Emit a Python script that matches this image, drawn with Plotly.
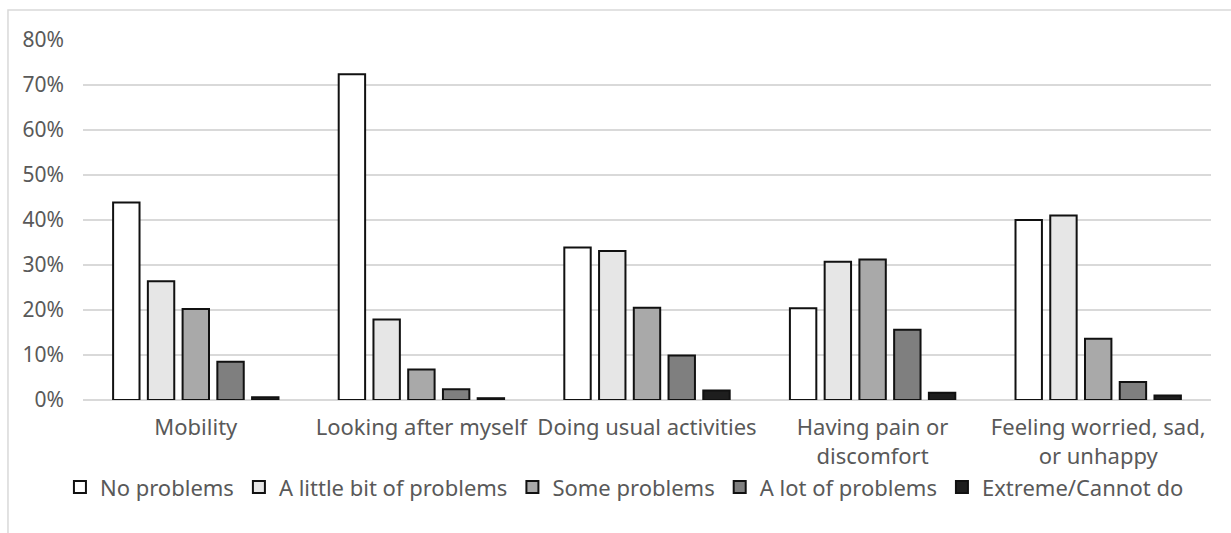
import plotly.graph_objects as go

# EQ-5D-Y style dimensions and response levels
categories = [
    "Mobility",
    "Looking after myself",
    "Doing usual activities",
    "Having pain or<br>discomfort",
    "Feeling worried, sad,<br>or unhappy",
]
levels = [
    "No problems",
    "A little bit of problems",
    "Some problems",
    "A lot of problems",
    "Extreme/Cannot do",
]

# Share of respondents per level (fractions), one list per response level
no_problems = [0.439, 0.724, 0.339, 0.204, 0.400]
little_bit = [0.264, 0.179, 0.331, 0.307, 0.410]
some_problems = [0.202, 0.068, 0.205, 0.312, 0.136]
lot_of_problems = [0.085, 0.024, 0.099, 0.156, 0.040]
extreme = [0.006, 0.004, 0.021, 0.016, 0.010]

series_values = [no_problems, little_bit, some_problems, lot_of_problems, extreme]
fill_colors = ["#ffffff", "#e6e6e6", "#a9a9a9", "#7f7f7f", "#1e1e1e"]

y_ticks = [0, 0.1, 0.2, 0.3, 0.4, 0.5, 0.6, 0.7, 0.8]
y_tick_labels = ["0%", "10%", "20%", "30%", "40%", "50%", "60%", "70%", "80%"]

TEXT = "#595959"
GRID = "#d9d9d9"

fig = go.Figure()
for name, vals, col in zip(levels, series_values, fill_colors):
    fig.add_trace(go.Bar(
        name=name,
        x=categories,
        y=vals,
        marker=dict(color=col, line=dict(color="#111111", width=2)),
    ))

fig.update_layout(
    width=1231,
    height=533,
    margin=dict(l=83, r=20, t=40, b=133),
    paper_bgcolor="white",
    plot_bgcolor="white",
    barmode="group",
    bargap=0.23,
    bargroupgap=0.24,
    font=dict(family="Noto Sans", size=22, color=TEXT),
    showlegend=True,
    legend=dict(
        orientation="h",
        x=0.48,
        xanchor="center",
        y=-0.242,
        yanchor="middle",
        font=dict(family="Noto Sans", size=22, color=TEXT),
        itemwidth=30,
        tracegroupgap=0,
        bgcolor="rgba(0,0,0,0)",
    ),
    xaxis=dict(
        showgrid=False,
        showline=False,
        ticks="",
        ticklabelstandoff=12,
        tickfont=dict(family="Noto Sans", size=22, color=TEXT),
    ),
    yaxis=dict(
        range=[0, 0.8],
        tickvals=y_ticks,
        ticktext=y_tick_labels,
        showgrid=True,
        gridcolor=GRID,
        gridwidth=1.5,
        zeroline=True,
        zerolinecolor=GRID,
        zerolinewidth=2,
        showline=False,
        ticks="",
        ticklabelstandoff=18,
        tickfont=dict(family="Noto Sans", size=21, color=TEXT),
    ),
    shapes=[
        dict(
            type="rect",
            xref="paper",
            yref="paper",
            x0=-0.0665,
            x1=1.03,
            y0=-0.40,
            y1=1.083,
            line=dict(color=GRID, width=1.5),
            fillcolor="rgba(0,0,0,0)",
            layer="below",
        )
    ],
)

fig.write_html("out.html")
